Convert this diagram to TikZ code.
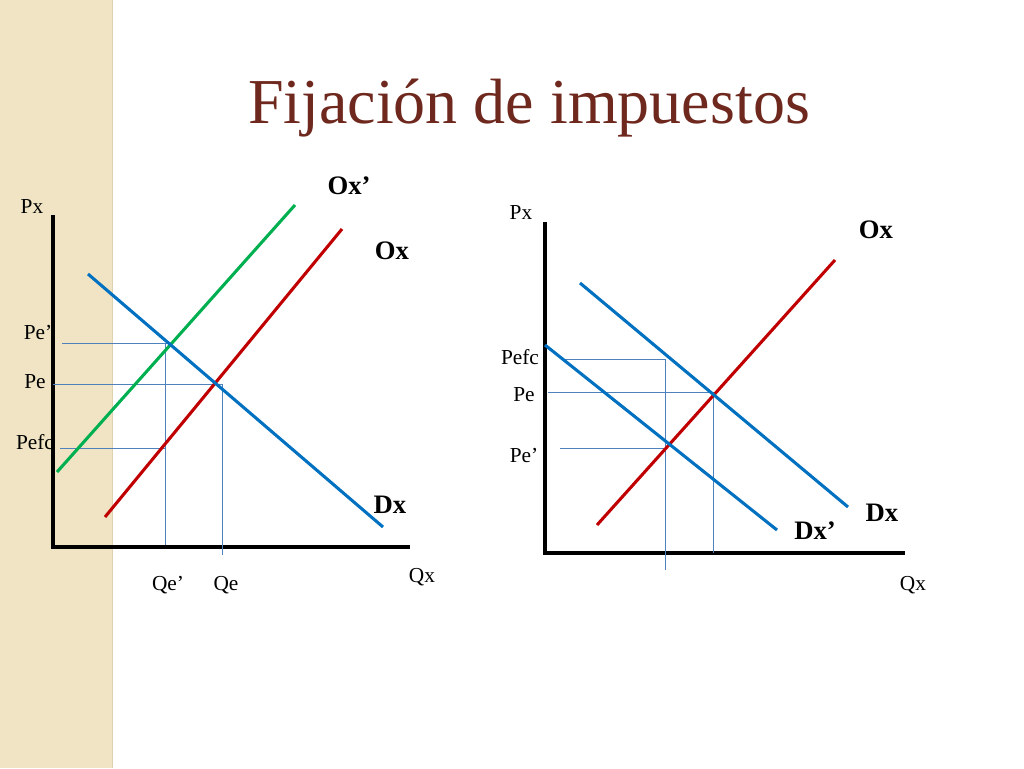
\documentclass[tikz,border=0pt]{standalone}
\usepackage{fontspec}
\setmainfont{Liberation Serif}
\begin{document}
\begin{tikzpicture}[x=0.75pt,y=-0.75pt,
 ax/.style={line width=2.3pt,black},
 sup/.style={line width=2.3pt,color={rgb,255:red,192;green,0;blue,0}},
 grn/.style={line width=2.3pt,color={rgb,255:red,0;green,176;blue,80}},
 dem/.style={line width=2.3pt,color={rgb,255:red,0;green,112;blue,192}},
 thin/.style={line width=0.5pt,color={rgb,255:red,79;green,129;blue,189}},
 lab/.style={font=\fontsize{16}{16}\selectfont,inner sep=0pt},
 blab/.style={font=\fontsize{20}{20}\selectfont\bfseries,inner sep=0pt}]
\useasboundingbox (0,0) rectangle (1024,768);
\fill[white] (0,0) rectangle (1024,768);
\fill[color={rgb,255:red,240;green,228;blue,196}] (0,0) rectangle (112,768);
\draw[color={rgb,255:red,225;green,210;blue,175}] (112,0) -- (112,768);
\node[font=\fontsize{48}{48}\selectfont, text={rgb,255:red,110;green,40;blue,30}] (title) at (529,108) {Fijación de impuestos};
% left chart
\coordinate (lo) at (53,547);
\draw[ax] (53,215) -- (lo) -- (410,547);
\draw[thin] (62,343) -- (170,343);
\draw[thin] (53,384) -- (222,384);
\draw[thin] (60,448) -- (165,448);
\draw[thin] (165,343) -- (165,545);
\draw[thin] (222,384) -- (222,555);
\draw[grn] (57,472) -- (295,205);
\draw[sup] (105,517) -- (342,229);
\draw[dem] (88,274) -- (383,527);
\node[lab] (lpx) at (32,207) {Px};
\node[lab] (lpe1) at (38,333) {Pe’};
\node[lab] (lpe) at (35,382) {Pe};
\node[lab] (lpf) at (35,442) {Pefc};
\node[lab] (lqe1) at (168,585) {Qe’};
\node[lab] (lqe) at (226,585) {Qe};
\node[lab] (lqx) at (422,577) {Qx};
\node[blab] (lox1) at (349,186) {Ox’};
\node[blab] (lox) at (392,251) {Ox};
\node[blab] (ldx) at (390,505) {Dx};
% right chart
\draw[ax] (545,222) -- (545,553) -- (905,553);
\draw[thin] (565,359) -- (665,359);
\draw[thin] (665,359) -- (665,570);
\draw[thin] (548,392) -- (713,392);
\draw[thin] (713,392) -- (713,553);
\draw[thin] (560,448) -- (667,448);
\draw[sup] (597,525) -- (835,260);
\draw[dem] (580,283) -- (848,507);
\draw[dem] (545,345) -- (777,530);
\node[lab] (rpx) at (521,213) {Px};
\node[blab] (rox) at (876,230) {Ox};
\node[lab] (rpf) at (520,357) {Pefc};
\node[lab] (rpe) at (524,395) {Pe};
\node[lab] (rpe1) at (524,456) {Pe’};
\node[blab] (rdx) at (882,513) {Dx};
\node[blab] (rdx1) at (815,531) {Dx’};
\node[lab] (rqx) at (913,585) {Qx};
\end{tikzpicture}
\end{document}
